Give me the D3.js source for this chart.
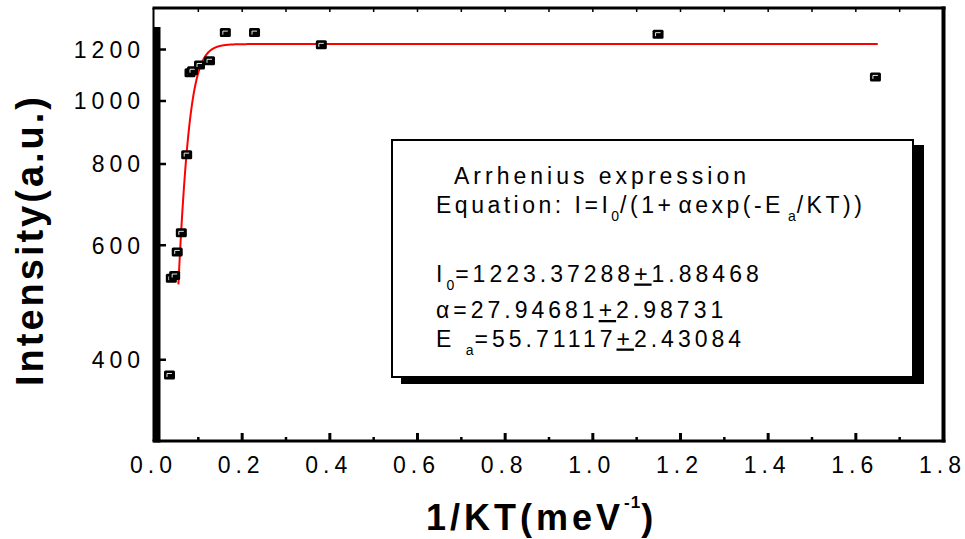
<!DOCTYPE html>
<html><head><meta charset="utf-8">
<script src="https://cdn.jsdelivr.net/npm/d3@7"></script>
<style>
html,body{margin:0;padding:0;background:#fff;}
svg{display:block;font-family:"Liberation Sans",Arial,sans-serif;}
</style></head><body>
<svg id="chart" width="965" height="539"></svg>
<script>
// Measured PL intensity versus inverse thermal energy 1/kT (meV^-1)
const invKT     = [0.0342, 0.0384, 0.0460, 0.0518, 0.0612, 0.0734, 0.0810, 0.0867, 0.1027, 0.1255, 0.1616, 0.2282, 0.3806, 1.1488, 1.6447];
const intensity = [379,    534,    539,    586,    627,    827,    1105,   1113,   1136,   1153,   1274,   1274,   1220,   1267,   1089];

// Arrhenius fit parameters (as printed in the panel)
const I0 = 1223.37288, alpha = 27.94681, Ea = 55.71117;
const fitStart = 0.0545, fitEnd = 1.65;

// Axis ticks
const xMajor = [0, 0.2, 0.4, 0.6, 0.8, 1.0, 1.2, 1.4, 1.6, 1.8];
const xMinor = [0.1, 0.3, 0.5, 0.7, 0.9, 1.1, 1.3, 1.5, 1.7];
const yTicks = [400, 600, 800, 1000, 1200];

(function draw() {
const svg = d3.select("#chart");
const pLeft = 154.5, pRight = 943.5, pTop = 8, pBottom = 441;

const x = d3.scaleLinear().domain([0, 1.8]).range([pLeft, pRight]);
const y = d3.scaleLog().domain([300, 1390]).range([pBottom, pTop]);

// frame
svg.append("line").attr("x1", pLeft - 2).attr("x2", pRight + 2).attr("y1", pTop).attr("y2", pTop)
  .attr("stroke", "#000").attr("stroke-width", 3);
svg.append("line").attr("x1", pRight).attr("x2", pRight).attr("y1", pTop - 1.5).attr("y2", pBottom + 1.5)
  .attr("stroke", "#000").attr("stroke-width", 4);
svg.append("line").attr("x1", pLeft - 1).attr("x2", pLeft - 1).attr("y1", pTop).attr("y2", pBottom)
  .attr("stroke", "#000").attr("stroke-width", 2);

// top ticks every 0.1
svg.append("g").selectAll("line").data(xMajor.concat(xMinor).filter(d => d > 0 && d < 1.8)).join("line")
  .attr("x1", d => x(d)).attr("x2", d => x(d)).attr("y1", pTop).attr("y2", pTop + 4)
  .attr("stroke", "#000").attr("stroke-width", 1.5);

// bottom axis
svg.append("line").attr("x1", pLeft - 2).attr("x2", pRight + 2).attr("y1", pBottom).attr("y2", pBottom)
  .attr("stroke", "#000").attr("stroke-width", 3);
svg.append("g").selectAll("line").data(xMajor.filter(d => d > 0 && d < 1.8)).join("line")
  .attr("x1", d => x(d)).attr("x2", d => x(d)).attr("y1", pBottom).attr("y2", pBottom - 8)
  .attr("stroke", "#000").attr("stroke-width", 3);
svg.append("g").selectAll("line").data(xMinor).join("line")
  .attr("x1", d => x(d)).attr("x2", d => x(d)).attr("y1", pBottom).attr("y2", pBottom - 4)
  .attr("stroke", "#000").attr("stroke-width", 2.5);
svg.append("g").selectAll("text").data(xMajor).join("text")
  .attr("x", d => x(d) - 1).attr("y", 472.5)
  .attr("text-anchor", "middle").attr("font-size", 23).attr("letter-spacing", 5)
  .attr("fill", "#000").text(d => d.toFixed(1));

// left axis: heavy line from 300 to 1300
svg.append("line").attr("x1", pLeft + 2.5).attr("x2", pLeft + 2.5).attr("y1", y(1300)).attr("y2", pBottom + 1.5)
  .attr("stroke", "#000").attr("stroke-width", 7);
svg.append("g").selectAll("line").data(yTicks).join("line")
  .attr("x1", pLeft + 5).attr("x2", pLeft + 11.5).attr("y1", d => y(d)).attr("y2", d => y(d))
  .attr("stroke", "#000").attr("stroke-width", 2.5);
svg.append("g").selectAll("text").data(yTicks).join("text")
  .attr("x", 145).attr("y", d => y(d) + 8.3)
  .attr("text-anchor", "end").attr("font-size", 23).attr("letter-spacing", 5)
  .attr("fill", "#000").text(d => d);

// axis titles
const xt = svg.append("text").attr("x", 426).attr("y", 530)
  .attr("font-size", 36).attr("font-weight", "bold").attr("letter-spacing", 4).attr("fill", "#000");
xt.append("tspan").text("1/KT(meV");
xt.append("tspan").attr("font-size", 17).attr("dy", -22).attr("letter-spacing", 1).text("-1");
xt.append("tspan").attr("dy", 22).text(")");

svg.append("text").attr("transform", "translate(43,240) rotate(-90)")
  .attr("text-anchor", "middle").attr("font-size", 38).attr("font-weight", "bold")
  .attr("letter-spacing", 3).attr("fill", "#000").text("Intensity(a.u.)");

// fitted Arrhenius curve
const fitX = d3.range(fitStart, fitEnd, 0.0005).concat([fitEnd]);
const line = d3.line().x(d => x(d)).y(d => y(I0 / (1 + alpha * Math.exp(-Ea * d))));
svg.append("path").datum(fitX).attr("d", line)
  .attr("fill", "none").attr("stroke", "#ff0000").attr("stroke-width", 2);

// data markers
const pts = invKT.map((v, i) => [v, intensity[i]]);
const mk = svg.append("g").selectAll("g").data(pts).join("g")
  .attr("transform", d => `translate(${x(d[0])},${y(d[1])})`);
mk.append("rect").attr("x", -5.5).attr("y", -4.5).attr("width", 11).attr("height", 9)
  .attr("rx", 1.5).attr("fill", "#000");
mk.append("path").attr("d", "M-2.5,2V-1.5H2.5").attr("fill", "none")
  .attr("stroke", "#fff").attr("stroke-width", 0.9);

// results panel with drop shadow
const bx = 392, by = 140, bw = 521, bh = 237;
svg.append("rect").attr("x", bx + 9).attr("y", by + 5).attr("width", bw + 2).attr("height", bh + 2)
  .attr("fill", "#000");
svg.append("rect").attr("x", bx).attr("y", by).attr("width", bw).attr("height", bh)
  .attr("fill", "#fff").attr("stroke", "#000").attr("stroke-width", 2);

const panel = [
  { x: 454, y: 184, ls: 4, parts: [{ t: "Arrhenius expression" }] },
  { x: 436, y: 213, ls: 3.5, parts: [{ t: "Equation: I=I" }, { t: "0", sub: 1 }, { t: "/(1+" }, { t: "αexp(-E", dx: 4 }, { t: "a", sub: 1, dx: 4 }, { t: "/KT))" }] },
  { x: 436, y: 281.5, ls: 4, parts: [{ t: "I" }, { t: "0", sub: 1 }, { t: "=1223.37288" }, { t: "+", u: 1 }, { t: "1.88468" }] },
  { x: 436, y: 318, ls: 4, parts: [{ t: "α=27.94681" }, { t: "+", u: 1 }, { t: "2.98731" }] },
  { x: 436, y: 346.5, ls: 4, parts: [{ t: "E " }, { t: "a", sub: 1 }, { t: "=55.71117" }, { t: "+", u: 1 }, { t: "2.43084" }] }
];
panel.forEach(row => {
  const t = svg.append("text").attr("x", row.x).attr("y", row.y)
    .attr("font-size", 23).attr("letter-spacing", row.ls).attr("fill", "#000");
  let shifted = false;
  row.parts.forEach(p => {
    const s = t.append("tspan").text(p.t);
    if (p.sub) { s.attr("font-size", 14).attr("dy", 8).attr("letter-spacing", 1); shifted = true; }
    else if (shifted) { s.attr("dy", -8); shifted = false; }
    if (p.dx) s.attr("dx", p.dx);
    if (p.u) s.style("text-decoration", "underline").style("text-decoration-thickness", "3px");
  });
});
})();
</script>
</body></html>
